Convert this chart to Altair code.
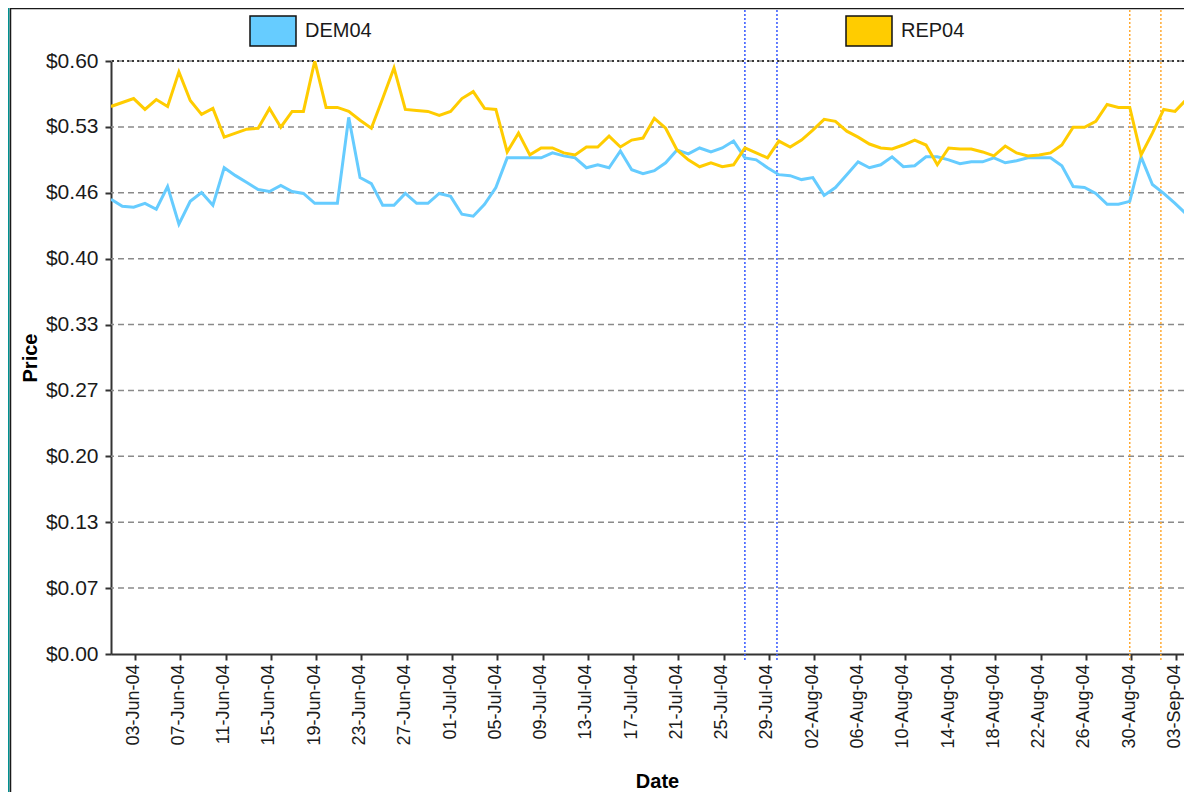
import altair as alt
import pandas as pd

# ---------------- data ----------------
start_date = "2004-06-01"
series_names = ["DEM04", "REP04"]
series_colors = ["#66CCFF", "#FFCC00"]

dem04 = [0.460, 0.453, 0.452, 0.456, 0.450, 0.473, 0.435, 0.458, 0.467, 0.454,
         0.492, 0.484, 0.477, 0.470, 0.468, 0.474, 0.468, 0.466, 0.456, 0.456,
         0.456, 0.543, 0.482, 0.476, 0.454, 0.454, 0.466, 0.456, 0.456, 0.466,
         0.463, 0.445, 0.443, 0.455, 0.472, 0.502, 0.502, 0.502, 0.502, 0.507,
         0.504, 0.502, 0.492, 0.495, 0.492, 0.509, 0.490, 0.486, 0.489, 0.497,
         0.510, 0.506, 0.512, 0.508, 0.512, 0.519, 0.502, 0.500, 0.492, 0.485,
         0.484, 0.480, 0.482, 0.464, 0.472, 0.485, 0.498, 0.492, 0.495, 0.503,
         0.493, 0.494, 0.503, 0.503, 0.500, 0.496, 0.498, 0.498, 0.502, 0.497,
         0.499, 0.502, 0.502, 0.502, 0.494, 0.473, 0.472, 0.466, 0.455, 0.455,
         0.458, 0.503, 0.475, 0.466, 0.456, 0.445]

rep04 = [0.554, 0.558, 0.562, 0.551, 0.561, 0.554, 0.589, 0.560, 0.546, 0.552,
         0.523, 0.527, 0.531, 0.532, 0.552, 0.533, 0.549, 0.549, 0.600, 0.553,
         0.553, 0.549, 0.540, 0.532, 0.562, 0.593, 0.551, 0.550, 0.549, 0.545,
         0.549, 0.562, 0.569, 0.552, 0.551, 0.508, 0.527, 0.505, 0.512, 0.512,
         0.507, 0.505, 0.513, 0.513, 0.524, 0.513, 0.520, 0.522, 0.542, 0.532,
         0.510, 0.500, 0.493, 0.497, 0.493, 0.495, 0.512, 0.507, 0.502, 0.519,
         0.513, 0.520, 0.530, 0.541, 0.539, 0.529, 0.523, 0.516, 0.512, 0.511,
         0.515, 0.520, 0.515, 0.495, 0.512, 0.511, 0.511, 0.508, 0.504, 0.514,
         0.507, 0.504, 0.505, 0.507, 0.515, 0.533, 0.533, 0.539, 0.556, 0.553,
         0.553, 0.505, 0.527, 0.551, 0.549, 0.561]

price_ticks = [0.0, 0.0667, 0.1333, 0.2, 0.2667, 0.3333, 0.4, 0.4667, 0.5333, 0.6]
price_labels = ["$0.00", "$0.07", "$0.13", "$0.20", "$0.27", "$0.33",
                "$0.40", "$0.46", "$0.53", "$0.60"]

date_tick_days = [(6, 3), (6, 7), (6, 11), (6, 15), (6, 19), (6, 23), (6, 27),
                  (7, 1), (7, 5), (7, 9), (7, 13), (7, 17), (7, 21), (7, 25), (7, 29),
                  (8, 2), (8, 6), (8, 10), (8, 14), (8, 18), (8, 22), (8, 26), (8, 30),
                  (9, 3)]

dnc_lines = ["2004-07-27T00:00:00", "2004-07-29T20:00:00"]
rnc_lines = ["2004-08-30T00:00:00", "2004-09-01T18:00:00"]

# ---------------- build ----------------
FONT = "Liberation Sans"
W, H = 1073, 593

dates = pd.date_range(start_date, periods=len(dem04), freq="D")
df = pd.DataFrame({
    "Date": list(dates) * 2,
    "Price": dem04 + rep04,
    "Series": [series_names[0]] * len(dem04) + [series_names[1]] * len(rep04),
})

xscale = alt.Scale(domain=[alt.DateTime(year=2004, month=6, date=1),
                           alt.DateTime(year=2004, month=9, date=3, hours=19)],
                   nice=False)
yscale = alt.Scale(domain=[0, 0.6], nice=False, zero=True)
cscale = alt.Scale(domain=series_names, range=series_colors)
# same mapping, listed in the other order (keeps the line colours out of the legend)
sscale = alt.Scale(domain=series_names[::-1], range=series_colors[::-1])

label_arr = "[" + ",".join("'" + s + "'" for s in price_labels) + "]"

x_axis = alt.Axis(
    values=[alt.DateTime(year=2004, month=m, date=d, hours=3) for m, d in date_tick_days],
    format="%d-%b-%y", labelAngle=270, labelFont=FONT, labelFontSize=18,
    labelColor="#1a1a1a", labelPadding=4, labelOffset=-2,
    labelOverlap=False, labelFlush=False,
    tickSize=6, tickColor="#333333", tickWidth=2,
    domainColor="#333333", domainWidth=2, grid=False,
    title="Date", titleFont=FONT, titleFontSize=20, titleFontWeight="bold",
    titleColor="#000000", titleX=546, titleY=133, titleAlign="center",
    titleBaseline="alphabetic")

y_axis = alt.Axis(
    values=price_ticks, labelExpr=label_arr + "[round(datum.value*15)]",
    labelFont=FONT, labelFontSize=21, labelColor="#1a1a1a", labelPadding=7,
    tickSize=6, tickColor="#333333", tickWidth=2,
    domainColor="#333333", domainWidth=2, grid=False,
    title="Price", titleFont=FONT, titleFontSize=20, titleFontWeight="bold",
    titleColor="#000000", titleX=-81, titleY=H / 2, titleAngle=270,
    titleAlign="center", titleBaseline="middle")

legend = alt.Legend(
    title=None, orient="none", legendX=138, legendY=-54, direction="horizontal",
    symbolType="M-1,-0.652L1,-0.652L1,0.652L-1,0.652Z", symbolSize=2116,
    symbolStrokeColor="#111111", symbolStrokeWidth=1.5, symbolOpacity=1,
    labelFont=FONT, labelFontSize=20, labelColor="#1a1a1a", labelOffset=8,
    columnPadding=471, padding=0)

# thin teal frame strip on the left and dark panel border
frame = alt.Chart(alt.Data(values=[{}])).mark_rect(fill="#009191").encode(
    x=alt.value(-103), x2=alt.value(-101.5), y=alt.value(-53), y2=alt.value(H + 140))
border_left = alt.Chart(alt.Data(values=[{}])).mark_rule(color="#1a1a1a", strokeWidth=1.5).encode(
    x=alt.value(-100.5), y=alt.value(-53), y2=alt.value(H + 140))
border_top = alt.Chart(alt.Data(values=[{}])).mark_rule(color="#1a1a1a", strokeWidth=1.5).encode(
    x=alt.value(-101), x2=alt.value(W), y=alt.value(-52.5))

grid_df = pd.DataFrame({"Price": price_ticks[1:]})
grid = alt.Chart(grid_df).mark_rule(color="#8a8a8a", strokeDash=[6, 4], strokeWidth=1.5).encode(
    y=alt.Y("Price:Q", scale=yscale, axis=y_axis))

top_df = pd.DataFrame({"Price": price_ticks[-1:]})
top_rule = alt.Chart(top_df).mark_rule(color="#111111", strokeDash=[2, 3], strokeWidth=1.5).encode(
    y=alt.Y("Price:Q", scale=yscale, axis=y_axis))

dnc = alt.Chart(pd.DataFrame({"Date": dnc_lines})).mark_rule(
    color="#3355FF", strokeDash=[2, 2], strokeWidth=1.5
).encode(x=alt.X("Date:T", scale=xscale, axis=x_axis), y=alt.value(-55), y2=alt.value(H + 6))

rnc = alt.Chart(pd.DataFrame({"Date": rnc_lines})).mark_rule(
    color="#FFAA33", strokeDash=[2, 2], strokeWidth=1.5
).encode(x=alt.X("Date:T", scale=xscale, axis=x_axis), y=alt.value(-55), y2=alt.value(H + 6))

legend_pts = alt.Chart(df).mark_point(
    filled=True, size=0, clip=True, shape="square"
).encode(
    x=alt.X("Date:T", scale=xscale, axis=x_axis),
    y=alt.Y("Price:Q", scale=yscale, axis=y_axis),
    color=alt.Color("Series:N", scale=cscale, legend=legend),
)

lines = alt.Chart(df).mark_line(strokeWidth=3, clip=True).encode(
    x=alt.X("Date:T", scale=xscale, axis=x_axis),
    y=alt.Y("Price:Q", scale=yscale, axis=y_axis),
    stroke=alt.Stroke("Series:N", scale=sscale, legend=None),
)

chart = alt.layer(frame, border_left, border_top, grid, top_rule, dnc, rnc, legend_pts, lines).properties(
    width=W, height=H,
    padding={"left": 103, "top": 53, "right": 0, "bottom": 138},
    autosize=alt.AutoSizeParams(type="none"),
    background="white",
).configure_view(strokeWidth=0)

chart.save("out.html", embed_options={"renderer": "svg", "actions": False})
